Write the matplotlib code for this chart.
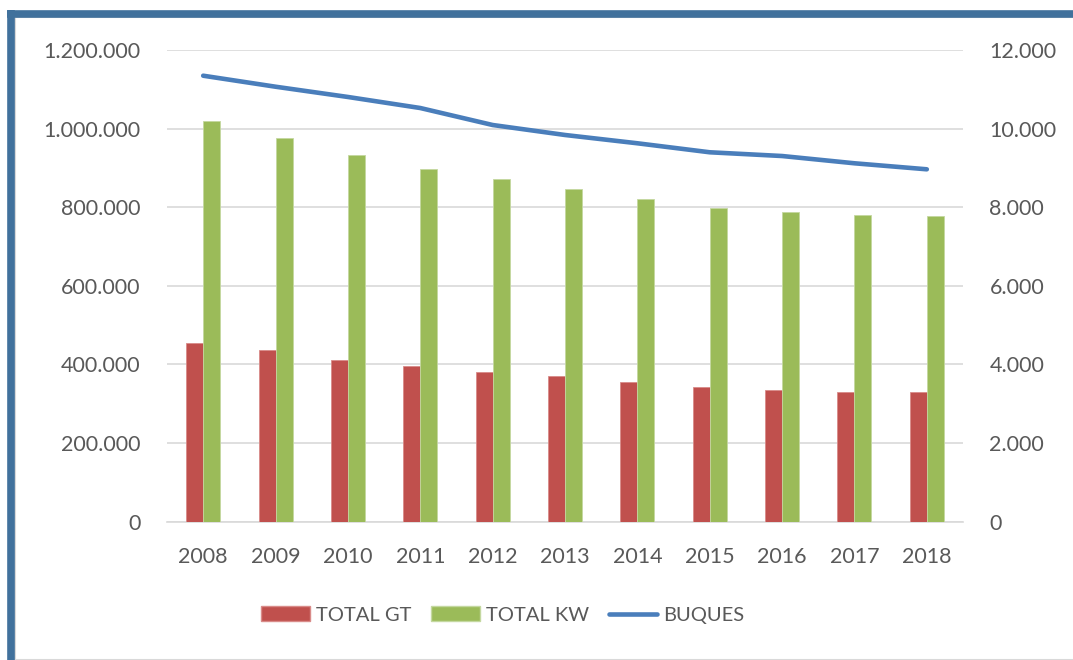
import matplotlib
matplotlib.use("Agg")
import matplotlib.pyplot as plt
from matplotlib.patches import Patch, Rectangle
from matplotlib.lines import Line2D
from matplotlib.ticker import FuncFormatter
import numpy as np

years = ["2008", "2009", "2010", "2011", "2012", "2013", "2014", "2015", "2016", "2017", "2018"]
total_gt = [453900, 436000, 410600, 396100, 381600, 370700, 356200, 341900, 334300, 330700, 330700]
total_kw = [1019400, 976100, 932100, 896500, 871100, 845600, 820200, 798100, 787900, 780200, 776900]
buques = [11346, 11066, 10805, 10524, 10092, 9838, 9627, 9398, 9303, 9118, 8965]
left_ticks = [0, 200000, 400000, 600000, 800000, 1000000, 1200000]
right_ticks = [0, 2000, 4000, 6000, 8000, 10000, 12000]

RED = "#c0504d"
GREEN = "#9bbb59"
BLUE = "#4a7ebb"
TXT = "#595959"
GRID = "#d9d9d9"

plt.rcParams['font.family'] = ['Lato', 'DejaVu Sans']

fig = plt.figure(figsize=(10.73, 6.6), dpi=100)
fig.patch.set_facecolor("white")

# frame
fig.patches.append(Rectangle((15/1073, 0), 1, 1 - 17/660, transform=fig.transFigure,
                             facecolor="none", edgecolor="#d9d9d9", lw=1.5))
fig.lines.append(Line2D([7/1073, 1], [1 - 13.5/660, 1 - 13.5/660], transform=fig.transFigure,
                        color="#41719c", lw=5.5, solid_capstyle="butt"))
fig.lines.append(Line2D([11/1073, 11/1073], [0, 1 - 10/660], transform=fig.transFigure,
                        color="#41719c", lw=5.5, solid_capstyle="butt"))

ax = fig.add_axes([167/1073, 1 - 521.7/660, (963 - 167)/1073, (521.7 - 50)/660])
ax2 = ax.twinx()

x = np.arange(len(years))
w = 0.235
ax.bar(x - w/2, total_gt, width=w, color=RED, edgecolor="#d98b89", linewidth=0.6, zorder=3)
ax.bar(x + w/2, total_kw, width=w, color=GREEN, edgecolor="#c4d8a0", linewidth=0.6, zorder=3)
ax2.plot(x, buques, color=BLUE, lw=3.3, solid_capstyle="round", solid_joinstyle="round")

ax.set_xlim(-0.5, len(years) - 0.5)
ax.set_ylim(0, 1200000)
ax2.set_ylim(0, 12000)
ax.set_yticks(left_ticks)
ax2.set_yticks(right_ticks)

fmt = FuncFormatter(lambda v, p: f"{int(v):,}".replace(",", "."))
ax.yaxis.set_major_formatter(fmt)
ax2.yaxis.set_major_formatter(fmt)
ax.set_xticks(x)
ax.set_xticklabels(years)

ax.grid(axis="y", color=GRID, lw=1.2, zorder=0)
ax.set_axisbelow(True)
for a in (ax, ax2):
    for s in a.spines.values():
        s.set_visible(False)
ax.spines["bottom"].set_visible(True)
ax.spines["bottom"].set_color(GRID)
ax.spines["bottom"].set_linewidth(1.2)

ax.tick_params(axis="y", length=0, pad=19, labelsize=15.5, labelcolor=TXT)
ax2.tick_params(axis="y", length=0, pad=19, labelsize=15.5, labelcolor=TXT)
ax.tick_params(axis="x", length=0, pad=18, labelsize=15.5, labelcolor=TXT)

handles = [Patch(facecolor=RED, edgecolor="#d98b89"), Patch(facecolor=GREEN, edgecolor="#c4d8a0"),
           Line2D([0], [0], color=BLUE, lw=3.3, solid_capstyle="round")]
leg = fig.legend(handles, ["TOTAL GT", "TOTAL KW", "BUQUES"], loc="center",
                 bbox_to_anchor=(503/1073, 1 - 615/660), ncol=3, frameon=False,
                 fontsize=14.5, handlelength=2.4, handleheight=0.7, handletextpad=0.3,
                 columnspacing=1.0, labelcolor=TXT)

fig.savefig("out.png", dpi=100, facecolor="white")
